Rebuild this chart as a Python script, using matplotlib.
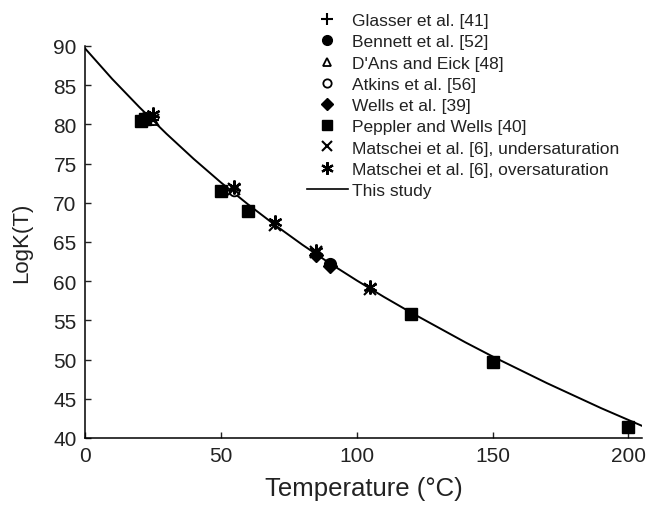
import numpy as np
import matplotlib.pyplot as plt
from matplotlib.lines import Line2D

plt.rcParams['font.family'] = ['Liberation Sans', 'DejaVu Sans']

# model curve ("This study")
curve_t = [0, 10, 20, 30, 40, 50, 60, 70, 80, 90, 100, 110, 120, 130, 140,
           150, 160, 170, 180, 190, 200, 205]
curve_logk = [89.7, 85.8, 82.2, 78.8, 75.6, 72.6, 69.8, 67.15, 64.65, 62.3,
              60.1, 58.0, 56.0, 54.1, 52.2, 50.4, 48.7, 47.0, 45.4, 43.8,
              42.3, 41.55]

# experimental points
glasser_t = [25, 85]
glasser_k = [80.5, 63.5]
bennett_t = [22, 90]
bennett_k = [80.8, 62.2]
dans_t = [25]
dans_k = [80.5]
atkins_t = [55]
atkins_k = [71.5]
wells_t = [85, 90]
wells_k = [63.4, 62.0]
peppler_t = [20.5, 22, 50, 60, 120, 150, 200]
peppler_k = [80.4, 80.7, 71.5, 69.0, 55.8, 49.7, 41.4]
under_t = [25, 55, 70, 85, 105]
under_k = [80.6, 71.7, 67.2, 63.7, 59.0]
over_t = [25, 55, 70, 85, 105]
over_k = [81.3, 72.0, 67.5, 63.9, 59.2]

fig = plt.figure(figsize=(6.46, 5.06), dpi=100)
ax = fig.add_axes([85 / 646, 1 - 439 / 506, 557 / 646, 392 / 506])

k = 'black'
ax.plot(curve_t, curve_logk, color=k, lw=1.4, zorder=1)
ax.plot(glasser_t, glasser_k, '+', color=k, ms=9, mew=1.5, ls='none')
ax.plot(bennett_t, bennett_k, 'o', color=k, ms=8.5, ls='none')
ax.plot(dans_t, dans_k, '^', mfc='white', mec=k, ms=7, mew=1.3, ls='none')
ax.plot(atkins_t, atkins_k, 'o', mfc='white', mec=k, ms=7, mew=1.3, ls='none')
ax.plot(wells_t, wells_k, 'D', color=k, ms=7, ls='none')
ax.plot(peppler_t, peppler_k, 's', color=k, ms=8.5, ls='none')
ax.plot(under_t, under_k, 'x', color=k, ms=8, mew=1.5, ls='none')
ax.plot(over_t, over_k, marker=(6, 2, 0), color=k, ms=10, mew=1.6, ls='none')

ax.set_xlim(0, 205)
ax.set_ylim(40, 90)
ax.set_xticks([0, 50, 100, 150, 200])
ax.set_yticks(np.arange(40, 91, 5))
ax.spines['top'].set_visible(False)
ax.spines['right'].set_visible(False)
for s in ['left', 'bottom']:
    ax.spines[s].set_linewidth(1.1)
ax.tick_params(direction='in', length=4, width=1, labelsize=15, colors='#222')
ax.tick_params(axis='x', pad=6)
ax.tick_params(axis='y', pad=6)

ax.set_xlabel('Temperature (°C)', fontsize=18.5, color='#222', labelpad=8)
ax.set_ylabel('LogK(T)', fontsize=16, color='#222', labelpad=15)

handles = [
    Line2D([], [], marker='+', color=k, ls='none', ms=8, mew=1.5),
    Line2D([], [], marker='o', color=k, ls='none', ms=7),
    Line2D([], [], marker='^', mfc='white', mec=k, ls='none', ms=6, mew=1.3),
    Line2D([], [], marker='o', mfc='white', mec=k, ls='none', ms=6, mew=1.3),
    Line2D([], [], marker='D', color=k, ls='none', ms=6),
    Line2D([], [], marker='s', color=k, ls='none', ms=7),
    Line2D([], [], marker='x', color=k, ls='none', ms=7, mew=1.5),
    Line2D([], [], marker=(6, 2, 0), color=k, ls='none', ms=9, mew=1.6),
    Line2D([], [], color=k, lw=1.2),
]
labels = ['Glasser et al. [41]', 'Bennett et al. [52]', "D'Ans and Eick [48]",
          'Atkins et al. [56]', 'Wells et al. [39]', 'Peppler and Wells [40]',
          'Matschei et al. [6], undersaturation',
          'Matschei et al. [6], oversaturation', 'This study']
leg = fig.legend(handles, labels, loc='upper left', bbox_to_anchor=(307 / 646, 1 - 14 / 506),
                 frameon=False, fontsize=12.5, borderpad=0, borderaxespad=0,
                 handlelength=2.36, handletextpad=0.25, labelspacing=0.35)
for t in leg.get_texts():
    t.set_color('#222')

fig.savefig('out.png', dpi=100)
